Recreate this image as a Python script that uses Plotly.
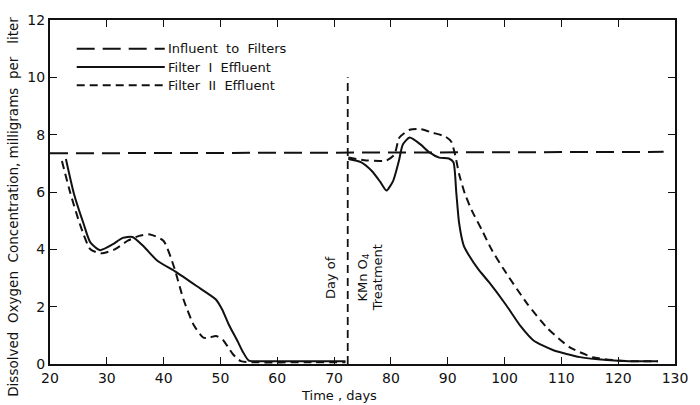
import plotly.graph_objects as go

# ---- data ----
influent_x = [20, 128]
influent_y = [7.35, 7.4]

f1_x_before = [22.8, 24.2, 25.9, 27.1, 28.8, 31.0, 32.8, 34.5, 36.5, 38.9, 42.0, 45.8, 49.2, 50.3, 51.5, 53.0, 53.9, 55.0, 58.0, 65.0, 72.0]
f1_y_before = [7.15, 5.95, 4.9, 4.24, 3.97, 4.17, 4.4, 4.43, 4.1, 3.6, 3.23, 2.72, 2.25, 1.9, 1.36, 0.8, 0.44, 0.12, 0.1, 0.1, 0.1]

f2_x_before = [22.1, 23.6, 25.4, 27.1, 29.0, 31.4, 33.7, 35.7, 37.6, 40.0, 41.8, 43.5, 45.3, 47.0, 48.0, 49.2, 50.4, 51.3, 52.2, 53.6, 56.0, 65.0, 72.0]
f2_y_before = [7.08, 5.95, 4.8, 4.0, 3.86, 4.0, 4.3, 4.47, 4.52, 4.29, 3.4, 2.25, 1.36, 0.92, 0.92, 0.98, 0.85, 0.6, 0.34, 0.1, 0.06, 0.06, 0.06]

f1_x_after = [72.5, 74.7, 76.6, 78.1, 79.2, 80.4, 81.4, 82.1, 83.3, 85.2, 86.8, 88.5, 90.2, 91.0, 91.5, 92.0, 92.8, 93.7, 95.4, 97.2, 100.3, 102.9, 105.1, 108.6, 113.3, 118.0, 122.0, 127.0]
f1_y_after = [7.15, 7.04, 6.74, 6.36, 6.05, 6.39, 7.08, 7.66, 7.9, 7.66, 7.38, 7.2, 7.17, 7.04, 6.0, 4.92, 4.14, 3.8, 3.3, 2.87, 2.05, 1.3, 0.82, 0.48, 0.24, 0.14, 0.1, 0.1]

f2_x_after = [72.5, 75.7, 79.2, 80.6, 81.5, 83.3, 85.0, 87.3, 89.6, 90.6, 91.3, 92.0, 93.0, 94.2, 96.0, 97.7, 99.8, 104.0, 107.5, 111.5, 115.5, 119.0, 122.0, 127.0]
f2_y_after = [7.2, 7.1, 7.1, 7.3, 7.9, 8.17, 8.2, 8.07, 7.93, 7.76, 7.3, 6.63, 5.95, 5.37, 4.68, 4.0, 3.32, 2.1, 1.26, 0.58, 0.24, 0.14, 0.1, 0.1]

treatment_day = 72.4
treatment_line_y = [0, 10]

x_ticks = [20, 30, 40, 50, 60, 70, 80, 90, 100, 110, 120, 130]
y_ticks = [0, 2, 4, 6, 8, 10, 12]

legend_labels = ["Influent  to  Filters", "Filter  I  Effluent", "Filter  II  Effluent"]

FONT = "DejaVu Sans"
BLACK = "#111111"

fig = go.Figure()

fig.add_trace(go.Scatter(x=influent_x, y=influent_y, mode="lines",
                         line=dict(color=BLACK, width=2, dash="18px,8px"),
                         showlegend=False, hoverinfo="skip"))

for xs, ys in [(f1_x_before, f1_y_before), (f1_x_after, f1_y_after)]:
    fig.add_trace(go.Scatter(x=xs, y=ys, mode="lines",
                             line=dict(color=BLACK, width=2, shape="spline", smoothing=0.6),
                             showlegend=False))
for xs, ys in [(f2_x_before, f2_y_before), (f2_x_after, f2_y_after)]:
    fig.add_trace(go.Scatter(x=xs, y=ys, mode="lines",
                             line=dict(color=BLACK, width=2, dash="8px,5px", shape="spline", smoothing=0.6),
                             showlegend=False))

fig.add_trace(go.Scatter(x=[treatment_day, treatment_day], y=treatment_line_y, mode="lines",
                         line=dict(color=BLACK, width=1.8, dash="8px,5px"),
                         showlegend=False))

# manual legend (samples drawn in data coordinates)
legend_rows_y = [11.0, 10.36, 9.72]
legend_dash = ["18px,8px", "solid", "8px,5px"]
for yv, d, lab in zip(legend_rows_y, legend_dash, legend_labels):
    fig.add_trace(go.Scatter(x=[24.7, 40.2], y=[yv, yv], mode="lines",
                             line=dict(color=BLACK, width=2, dash=d), showlegend=False))
    fig.add_annotation(x=40.4, y=yv, text=lab, showarrow=False, xanchor="left", yanchor="middle",
                       font=dict(family=FONT, size=13, color=BLACK))

# rotated treatment labels
for xv, txt in [(69.3, "Day of"), (75.0, "KMn O<sub>4</sub>"), (77.6, "Treatment")]:
    fig.add_annotation(x=xv, y=3.0, text=txt, textangle=-90, showarrow=False,
                       xanchor="center", yanchor="middle",
                       font=dict(family=FONT, size=13, color=BLACK))

axis_common = dict(showline=True, linewidth=2, linecolor=BLACK, mirror="ticks",
                   ticks="inside", ticklen=7, tickwidth=1.2, tickcolor=BLACK,
                   showgrid=False, zeroline=False,
                   tickfont=dict(family=FONT, size=14, color=BLACK))

fig.update_xaxes(range=[20, 130], tickvals=x_ticks, ticktext=[str(v) for v in x_ticks], **axis_common)
fig.update_yaxes(range=[0, 12], tickvals=y_ticks, ticktext=[str(v) for v in y_ticks], **axis_common)

fig.add_annotation(xref="paper", yref="paper", x=(344 - 50) / 635, y=(364 - 396) / 351,
                   text="Time , days", showarrow=False, xanchor="center", yanchor="middle",
                   font=dict(family=FONT, size=13, color=BLACK))
fig.add_annotation(xref="paper", yref="paper", x=(13 - 50) / 635, y=(364 - 204) / 351,
                   text="Dissolved  Oxygen  Concentration, milligrams  per   liter", textangle=-90,
                   showarrow=False, xanchor="center", yanchor="middle",
                   font=dict(family=FONT, size=13.5, color=BLACK))

fig.update_layout(width=700, height=405, margin=dict(l=50, r=15, t=13, b=41),
                  paper_bgcolor="white", plot_bgcolor="white", showlegend=False)

fig.write_html("out.html", config={"displayModeBar": False},
               post_script="document.body.style.margin='0px';document.body.style.overflow='hidden';")
